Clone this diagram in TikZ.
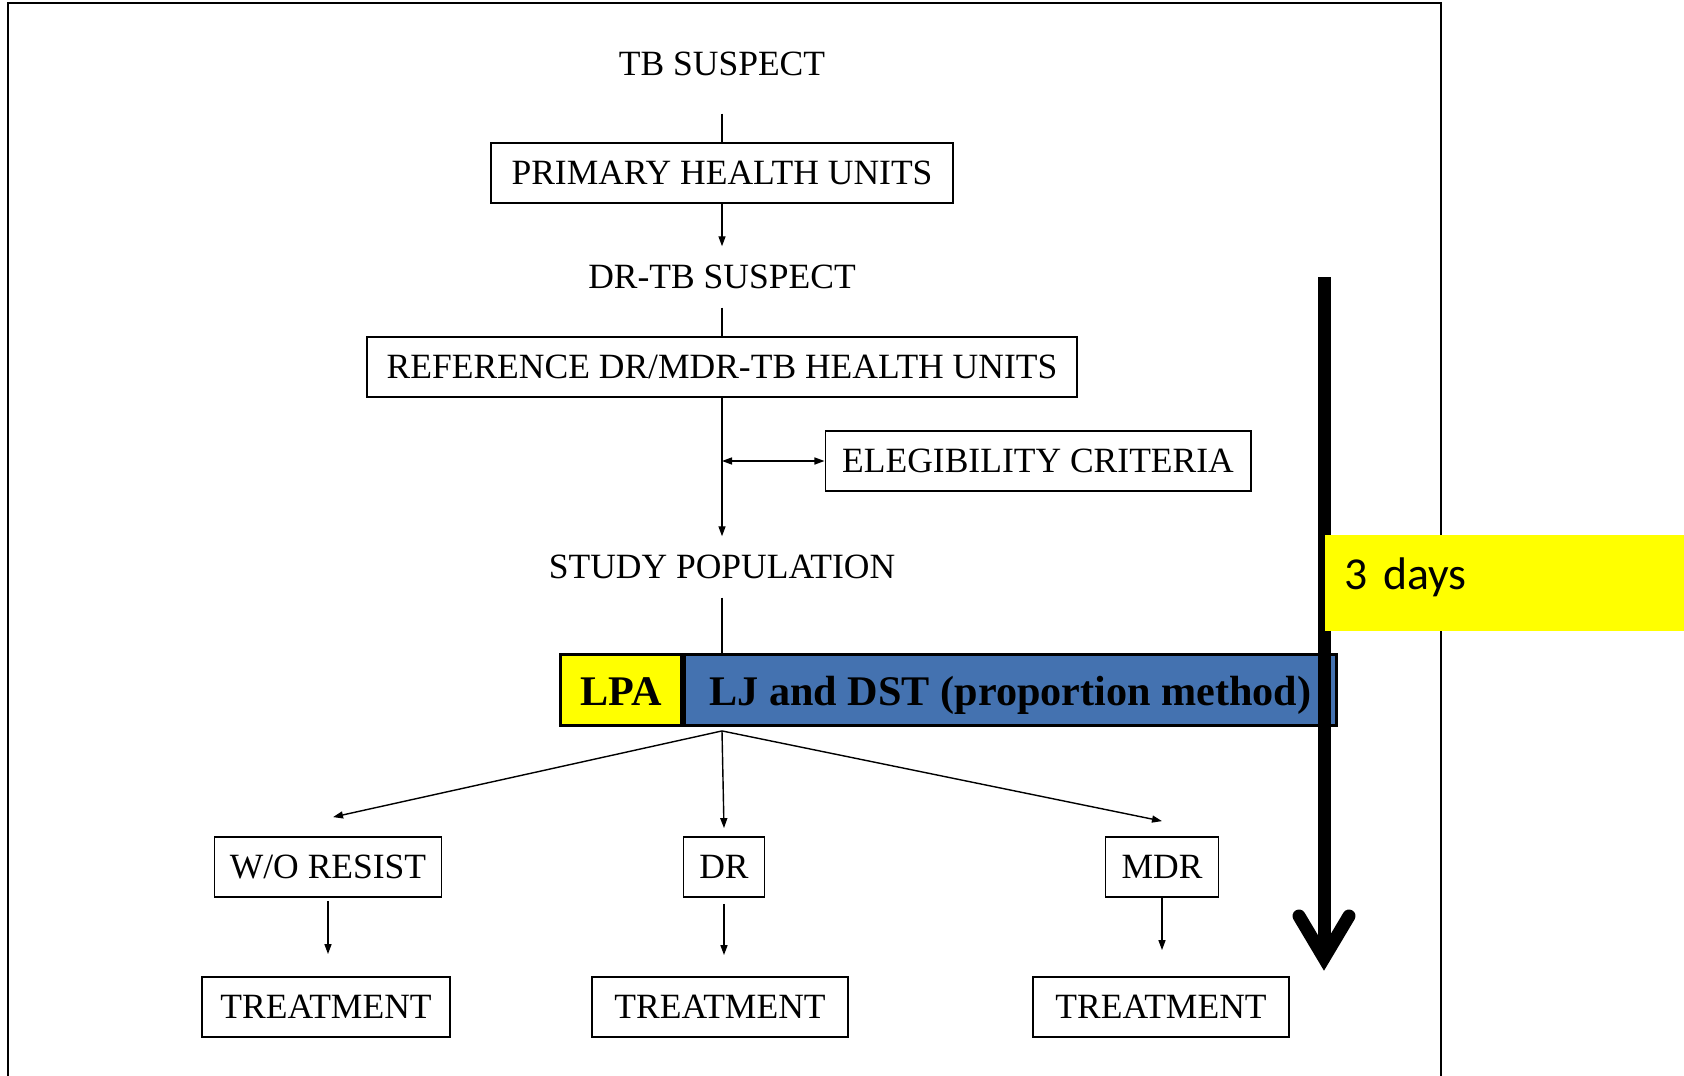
\documentclass[tikz,border=0pt]{standalone}
\usepackage{fontspec}
\setmainfont{Liberation Serif}
\newfontfamily\calibri{Carlito}
\usetikzlibrary{arrows.meta,positioning,calc}
\definecolor{labblue}{RGB}{68,114,176}
\definecolor{labyellow}{RGB}{255,255,0}

\begin{document}
\begin{tikzpicture}[
    x=0.01cm, y=-0.01cm,
    every node/.style={font=\fontsize{10.1}{12}\selectfont},
    stage/.style={draw, line width=0.5pt, minimum height=0.6cm, inner sep=0pt},
    stagetext/.style={minimum height=0.6cm, inner sep=0pt},
    test/.style={draw=black, line width=0.8pt, minimum height=0.71cm, inner sep=0pt, text height=0.38cm, text depth=0.08cm, font=\fontsize{12}{14}\selectfont\bfseries},
    flow/.style={-{Triangle[length=0.1cm, width=0.07cm]}, line width=0.4pt},
    timeline/.style={line width=0.13cm, line cap=round, line join=miter},
]
\useasboundingbox (0,0) rectangle (1684,1075);
\draw[line width=0.6pt] (8,1080) |- (1441,3) -- (1441,1080);

\node[stagetext] (tb) at (722,64) {TB SUSPECT};
\node[stage, minimum width=4.61cm] (prim) at (722,173) {PRIMARY HEALTH UNITS};
\node[stagetext] (drtb) at (722,277) {DR-TB SUSPECT};
\node[stage, minimum width=7.10cm] (ref) at (722,367) {REFERENCE DR/MDR-TB HEALTH UNITS};
\node[stage, minimum width=4.25cm] (elig) at (1038,461) {ELEGIBILITY CRITERIA};
\node[stagetext] (study) at (722,567) {STUDY POPULATION};
\node[test, fill=labyellow, minimum width=1.21cm] (lpa) at (621,690) {LPA};
\node[test, fill=labblue, minimum width=6.52cm, anchor=west] (ljdst) at (lpa.east) {LJ and DST (proportion method)};

\node[stage, minimum width=2.27cm] (wores) at (328,867) {W/O RESIST};
\node[stage, minimum width=0.81cm] (dr) at (724,867) {DR};
\node[stage, minimum width=1.13cm] (mdr) at (1162,867) {MDR};
\node[stage, minimum width=2.48cm] (treat1) at (326,1007) {TREATMENT};
\node[stage, minimum width=2.56cm] (treat2) at (720,1007) {TREATMENT};
\node[stage, minimum width=2.56cm] (treat3) at (1161,1007) {TREATMENT};

\draw[line width=0.4pt, shorten <=0.19cm] (tb) -- (prim);
\draw[flow] (prim) -- (drtb);
\draw[line width=0.4pt] (drtb) -- (ref);
\draw[flow] (ref) -- (study);
\coordinate (eligjoin) at (ref.south |- elig.west);
\draw[{Triangle[length=0.1cm, width=0.07cm]}-{Triangle[length=0.1cm, width=0.07cm]}, line width=0.4pt] (eligjoin) -- (elig);
\draw[line width=0.4pt] (study) -- (study |- ljdst.north);

\coordinate (fork) at ($(study |- ljdst.south)+(0,4)$);
\draw[flow] (fork) -- ([xshift=0.05cm, yshift=0.19cm]wores.north);
\draw[flow] (fork) -- ([yshift=0.08cm]dr.north);
\draw[flow] (fork) -- ([yshift=0.15cm]mdr.north);

\draw[flow, shorten <=0.03cm, shorten >=0.22cm] (wores) -- (wores |- treat1.north);
\draw[flow, shorten <=0.06cm, shorten >=0.21cm] (dr) -- (dr |- treat2.north);
\draw[flow, shorten >=0.26cm] (mdr) -- (mdr |- treat3.north);

% time bar
\coordinate (clockstart) at (1324,277);
\coordinate (clockend) at (1324,958);
\draw[timeline, line cap=butt] (clockstart) -- (clockend);
\draw[timeline] ($(clockend)+(-25,-42)$) -- (clockend) -- ($(clockend)+(25,-42)$);

\node[fill=labyellow, anchor=north west, minimum width=3.6cm, minimum height=0.96cm, text width=3.2cm, inner xsep=0.2cm, inner ysep=0pt, text depth=0.19cm, align=left, font=\calibri\fontsize{13}{15}\selectfont] (days) at (1324,534) {3 days};
\end{tikzpicture}
\end{document}
